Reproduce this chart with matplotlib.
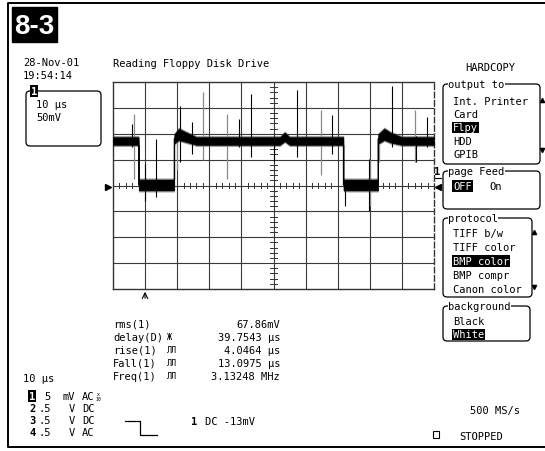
import matplotlib.pyplot as plt
from matplotlib.patches import FancyBboxPatch, Rectangle

# ---- trace data, in screen divisions (x: 10 us/div, y: 50 mV/div) ----
trace_t = [0.00, 0.80, 0.80, 1.91, 1.91, 2.05, 2.25, 2.60, 5.20, 5.35, 5.50,
           7.18, 7.18, 8.26, 8.26, 8.45, 8.65, 9.00, 10.00]
trace_v = [1.72, 1.72, 0.02, 0.02, 1.80, 1.98, 1.88, 1.72, 1.72, 1.88, 1.72,
           1.72, 0.02, 0.02, 1.80, 1.98, 1.85, 1.72, 1.72]
# half-height of the noise band around the trace
trace_w = [0.15, 0.15, 0.21, 0.21, 0.18, 0.22, 0.19, 0.15, 0.15, 0.17, 0.15,
           0.15, 0.21, 0.21, 0.18, 0.22, 0.19, 0.15, 0.15]

# spikes: time, top, bottom
black_t = [0.59, 0.99, 1.35, 2.10, 2.45, 3.91, 4.30, 5.00, 5.74, 6.83, 7.22, 7.96, 8.68, 9.45, 9.78]
black_top = [2.39, 0.84, 1.81, 3.07, 2.45, 2.58, 3.55, 1.90, 3.68, 2.71, 0.20, 1.03, 3.85, 1.90, 2.65]
black_bot = [1.50, -0.58, -0.45, 0.90, 1.23, 1.50, 1.10, 0.94, 1.10, 1.23, -0.78, -0.97, 1.50, 0.90, 1.50]
grey_t = [0.66, 1.98, 2.81, 3.54, 6.47, 8.01, 8.28, 9.42]
grey_top = [2.78, 1.70, 3.62, 2.78, 2.91, 1.00, 1.70, 2.91]
grey_bot = [0.26, 0.58, 0.97, 0.26, 0.39, -0.80, 0.90, 0.90]

# ---- readouts ----
meas_names = ["rms(1)", "delay(D)", "rise(1)", "Fall(1)", "Freq(1)"]
meas_syms = ["", "Ж", "ЛЛ", "ЛЛ", "ЛЛ"]
meas_vals = ["67.86mV", "39.7543 µs", "4.0464 µs", "13.0975 µs", "3.13248 MHz"]
chan_ids = ["1", "2", "3", "4"]
chan_scale = ["5", ".5", ".5", ".5"]
chan_unit = ["mV", "V", "V", "V"]
chan_coup = ["AC", "DC", "DC", "AC"]
out_items = ["Int. Printer", "Card", "Flpy", "HDD", "GPIB"]
proto_items = ["TIFF b/w", "TIFF color", "BMP color", "BMP compr", "Canon color"]
bg_items = ["Black", "White"]

W, H = 545, 452
fig = plt.figure(figsize=(W / 100, H / 100), dpi=100)
fig.patch.set_facecolor("white")

# overlay in pixel coords
ax0 = fig.add_axes([0, 0, 1, 1])
ax0.set_xlim(0, W)
ax0.set_ylim(H, 0)
ax0.axis("off")

MONO = "DejaVu Sans Mono"
FS = 7.5


def txt(x, y, s, ha="left", inv=False, size=FS, **kw):
    if inv:
        kw["bbox"] = dict(facecolor="black", edgecolor="none", pad=0.6)
        kw["color"] = "white"
    ax0.text(x, y, s, ha=ha, va="center", family=MONO, fontsize=size, **kw)


def box(x0, y0, x1, y1, title=None):
    ax0.add_patch(FancyBboxPatch((x0, y0), x1 - x0, y1 - y0,
                                 boxstyle="round,pad=0,rounding_size=4",
                                 fc="none", ec="black", lw=0.9))
    if title:
        ax0.text(x0 + 5, y0, title, va="center", family=MONO, fontsize=FS,
                 bbox=dict(facecolor="white", edgecolor="none", pad=0.3))


# outer frame
ax0.plot([545, 8, 8, 545], [4, 4, 448, 448], color="black", lw=1.4)

# 8-3 tag
ax0.add_patch(Rectangle((12, 8), 45, 35, color="black"))
ax0.text(34.5, 26.5, "8-3", color="white", ha="center", va="center",
         family=["Liberation Sans", "DejaVu Sans"], weight="bold", fontsize=20)

txt(23, 63, "28-Nov-01")
txt(23, 76, "19:54:14")
txt(113, 64, "Reading Floppy Disk Drive")

# channel 1 box
box(26, 92, 101, 147)
txt(31, 92, "1", inv=True, weight="bold")
txt(36, 105, "10 µs")
txt(36, 118, "50mV")

# right-hand menu
txt(490, 68, "HARDCOPY", ha="center")
box(443, 85, 540, 165, "output to")
for i, s in enumerate(out_items):
    txt(453, 102 + i * 13.2, s, inv=(s == "Flpy"))
ax0.plot([542], [101], marker="^", ms=3, color="black")
ax0.plot([542], [151], marker="v", ms=3, color="black")

box(443, 172, 540, 210, "page Feed")
txt(453, 187, "OFF", inv=True)
txt(489, 187, "On")

box(443, 219, 532, 298, "protocol")
for i, s in enumerate(proto_items):
    txt(453, 234 + i * 14, s, inv=(s == "BMP color"))
ax0.plot([534], [233], marker="^", ms=3, color="black")
ax0.plot([534], [288], marker="v", ms=3, color="black")

box(443, 307, 530, 342, "background")
for i, s in enumerate(bg_items):
    txt(453, 322 + i * 13.5, s, inv=(s == "White"))

# ground markers
ax0.plot([108], [187.5], marker=">", ms=4, color="black")
ax0.plot([438], [187.5], marker="<", ms=4, color="black")
ax0.text(437, 172, "1", ha="center", va="center", family=MONO, fontsize=FS, weight="bold")
ax0.plot([434, 441], [179, 179], color="black", lw=0.8)
# trigger position arrow
ax0.annotate("", xy=(145, 290), xytext=(145, 302),
             arrowprops=dict(arrowstyle="->", lw=0.8, color="black"))

# measurements
for i in range(len(meas_names)):
    y = 325 + i * 13
    txt(113, y, meas_names[i])
    txt(167, y, meas_syms[i], size=6)
    txt(280, y, meas_vals[i], ha="right")

txt(23, 379, "10 µs")
for i in range(len(chan_ids)):
    y = 397 + i * 12
    txt(29, y, chan_ids[i], inv=(i == 0), weight="bold")
    txt(51, y, chan_scale[i], ha="right")
    txt(75, y, chan_unit[i], ha="right")
    txt(82, y, chan_coup[i])
ax0.text(98, 397, "x\n10", family=MONO, fontsize=3.5, ha="center", va="center", linespacing=0.8)

# trigger symbol
ax0.plot([125, 140, 140, 157], [422, 422, 436, 436], color="black", lw=0.9)
txt(191, 422, "1", weight="bold")
txt(205, 422, "DC -13mV")

txt(470, 411, "500 MS/s")
ax0.add_patch(Rectangle((433, 432), 6, 7, fc="none", ec="black", lw=0.8))
txt(459, 437, "STOPPED")

# ---- scope grid ----
gx0, gx1, gy0, gy1 = 113, 434, 83, 290
ax = fig.add_axes([gx0 / W, 1 - gy1 / H, (gx1 - gx0) / W, (gy1 - gy0) / H])
ax.set_xlim(0, 10)
ax.set_ylim(-4, 4)
ax.set_xticks([])
ax.set_yticks([])
for sp in ax.spines.values():
    sp.set_linewidth(1.0)
    sp.set_color("#333333")
ax.spines["right"].set_linestyle((0, (4, 2)))

for gx in range(1, 10):
    ax.axvline(gx, color="#3a3a3a", lw=0.8, zorder=1)
for gy in range(-3, 4):
    ax.axhline(gy, color="#3a3a3a", lw=0.8, zorder=1)

# centre graticule ticks
for k in range(1, 50):
    ax.plot([k * 0.2, k * 0.2], [-0.1, 0.1], color="#333333", lw=0.7, zorder=1)
for k in range(1, 40):
    yy = -4 + k * 0.2
    ax.plot([4.88, 5.12], [yy, yy], color="#333333", lw=0.7, zorder=1)

# the trace: fuzzy noise band + dense core + thin edges + spikes
lo = [v - w for v, w in zip(trace_v, trace_w)]
hi = [v + w for v, w in zip(trace_v, trace_w)]
ax.fill_between(trace_t, [v - 0.06 for v in lo], [v + 0.06 for v in hi],
                color="#555555", lw=0, alpha=0.6, zorder=2)
ax.fill_between(trace_t, lo, hi, color="black", lw=0.4, zorder=3)
ax.plot(trace_t, trace_v, color="black", lw=0.9, zorder=3)
ax.vlines(grey_t, grey_bot, grey_top, color="#8a8a8a", lw=0.9, zorder=2)
ax.vlines(black_t, black_bot, black_top, color="black", lw=0.8, zorder=3)

fig.savefig("out.png", dpi=100)
